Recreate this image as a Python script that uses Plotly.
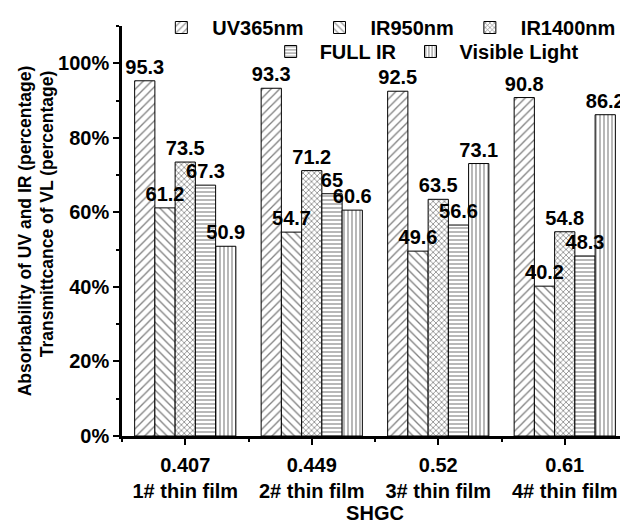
import plotly.graph_objects as go

shgc = ["0.407", "0.449", "0.52", "0.61"]
films = ["1# thin film", "2# thin film", "3# thin film", "4# thin film"]
series_names = ["UV365nm", "IR950nm", "IR1400nm", "FULL IR", "Visible Light"]
uv365 = [95.3, 93.3, 92.5, 90.8]
ir950 = [61.2, 54.7, 49.6, 40.2]
ir1400 = [73.5, 71.2, 63.5, 54.8]
full_ir = [67.3, 65, 56.6, 48.3]
visible = [50.9, 60.6, 73.1, 86.2]
y_ticks = [0, 20, 40, 60, 80, 100]

series = [uv365, ir950, ir1400, full_ir, visible]
patterns = [("/", 6, 0.22), ("\\", 6, 0.22), ("x", 4, 0.35), ("-", 4, 0.28), ("|", 4, 0.28)]
legends = ["legend", "legend", "legend", "legend2", "legend2"]

FONT = dict(family="Liberation Sans, Arial, sans-serif", color="black", weight="bold")
xpos = list(range(len(shgc)))
n = len(series)
group_w = 0.8
bar_w = group_w / n

fig = go.Figure()
# patterned bars
for i, (name, vals, (shape, size, sol), lg) in enumerate(zip(series_names, series, patterns, legends)):
    fig.add_trace(go.Bar(
        x=xpos, y=vals, name=name, width=bar_w, offset=-group_w / 2 + i * bar_w,
        marker=dict(color="white", line=dict(color="black", width=1),
                    pattern=dict(shape=shape, size=size, solidity=sol,
                                 fgcolor="black", bgcolor="white")),
        legend=lg,
    ))
# value labels drawn on top of all bars
for i, vals in enumerate(series):
    fig.add_trace(go.Bar(
        x=xpos, y=vals, width=bar_w, offset=-group_w / 2 + i * bar_w,
        marker=dict(color="rgba(0,0,0,0)", line=dict(width=0)),
        text=[str(v) for v in vals], texttemplate="%{text}",
        textposition="outside", constraintext="none", cliponaxis=False,
        textfont=dict(size=20, **FONT), showlegend=False, hoverinfo="skip",
    ))

# page body adds an 8px margin, so the figure is drawn 8px smaller
fig.update_layout(
    width=620, height=517,
    barmode="overlay",
    plot_bgcolor="white", paper_bgcolor="white",
    margin=dict(l=114, r=0, t=18, b=89, autoexpand=False),
    font=dict(size=20, **FONT),
    legend=dict(orientation="h", x=0.056, xanchor="left", yref="container", y=1.0, yanchor="top",
                font=dict(size=20, **FONT), bgcolor="rgba(0,0,0,0)", itemwidth=52),
    legend2=dict(orientation="h", x=0.276, xanchor="left", yref="container", y=0.9536, yanchor="top",
                 font=dict(size=20, **FONT), bgcolor="rgba(0,0,0,0)", itemwidth=48),
    showlegend=True,
)

pad = "\u00a0" * 7
fig.update_xaxes(
    range=[-0.5, 3.5], tickvals=xpos,
    ticktext=[f"{s}<br>{f}" for s, f in zip(shgc, films)], tickangle=0,
    showline=True, linecolor="black", linewidth=2.5,
    ticks="outside", ticklen=6, tickwidth=2, tickcolor="black", ticklabelstandoff=3,
    minor=dict(tick0=0.5, dtick=1, ticks="outside", ticklen=3, tickwidth=2, tickcolor="black"),
    showgrid=False, zeroline=False, automargin=False,
    tickfont=dict(size=20, **FONT),
    title=dict(text="SHGC", font=dict(size=20, **FONT), standoff=6),
)
fig.update_yaxes(
    range=[0, 110], tickvals=y_ticks, ticktext=[f"{v}%" for v in y_ticks],
    showline=True, linecolor="black", linewidth=2.5,
    ticks="outside", ticklen=6, tickwidth=2, tickcolor="black",
    minor=dict(dtick=10, ticks="outside", ticklen=3, tickwidth=2, tickcolor="black"),
    showgrid=False, zeroline=False, automargin=False,
    tickfont=dict(size=20, **FONT),
    title=dict(text=f"{pad}Absorbability of UV and IR (percentage)<br>{pad}Transmittcance of VL (percentage)",
               font=dict(size=17.5, **FONT), standoff=0),
)

fig.write_html("out.html")
